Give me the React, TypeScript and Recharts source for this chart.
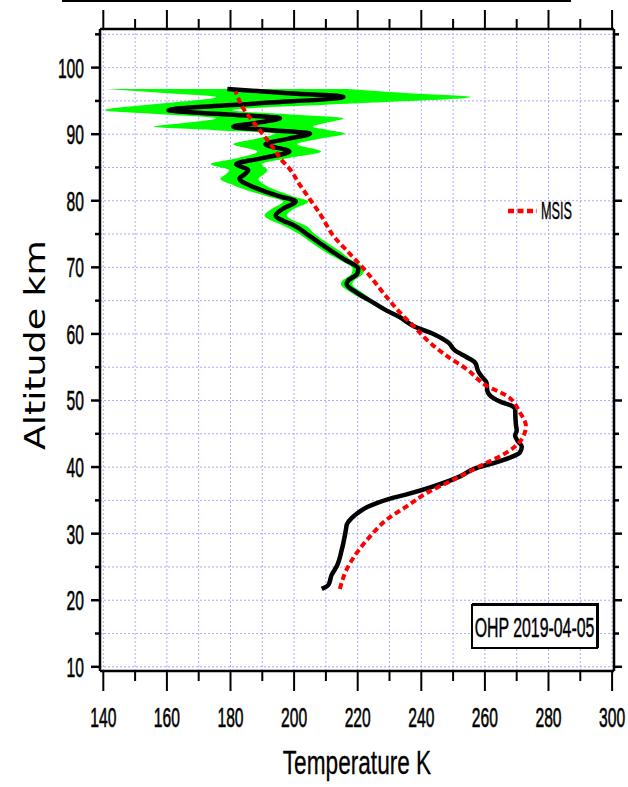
import React from "react";
import {
  ComposedChart,
  Line,
  Area,
  XAxis,
  YAxis,
  CartesianGrid,
  Legend,
} from "recharts";

// Lidar temperature profile (km, K) and its 1-sigma spread
const altitudes = [
  21.7, 22.3, 23.8, 25.1, 27.6, 30.6, 31.4, 32.3, 33.1, 34.0, 34.6, 35.3, 35.9,
  37.1, 38.6, 39.7, 40.9, 41.6, 42.2, 43.1, 43.8, 44.7, 45.5, 46.2, 47.5, 48.7,
  49.2, 49.8, 50.4, 51.4, 52.7, 53.6, 54.4, 55.7, 56.5, 57.5, 58.7, 60.0, 61.2,
  62.5, 63.5, 64.7, 66.2, 67.5, 68.0, 69.0, 69.8, 70.5, 71.0, 72.3, 73.5, 75.0,
  76.3, 77.0, 77.8, 78.8, 79.9, 80.6, 81.3, 82.3, 83.3, 84.0, 84.6, 85.5, 86.4,
  87.4, 88.5, 89.3, 90.1, 90.6, 91.1, 91.7, 92.4, 93.0, 93.6, 94.6, 95.6, 96.2,
  96.8,
];
const temperature = [
  208.7, 210.8, 211.8, 213.4, 215.0, 216.3, 216.6, 218.0, 220.0, 223.0, 226.0,
  230.5, 235.4, 243.8, 252.2, 256.4, 264.7, 268.8, 271.0, 271.6, 270.5, 269.5,
  270.0, 269.8, 269.6, 269.5, 268.4, 265.0, 262.6, 260.8, 260.5, 259.0, 257.9,
  256.9, 254.3, 250.6, 248.5, 243.8, 237.5, 233.3, 229.1, 224.9, 219.7, 216.5,
  217.0, 219.8, 220.2, 218.5, 216.5, 212.3, 208.5, 204.0, 200.0, 196.5, 194.2,
  196.5, 200.5, 196.0, 191.4, 186.1, 182.8, 184.5, 185.6, 181.8, 190.0, 198.5,
  191.0, 198.0, 205.0, 193.0, 180.9, 188.0, 195.5, 178.0, 160.5, 188.0, 215.5,
  197.0, 179.0,
];
const tempError = [
  0.3, 0.3, 0.3, 0.3, 0.3, 0.3, 0.3, 0.3, 0.3, 0.3, 0.3, 0.3, 0.3, 0.3, 0.3,
  0.3, 0.3, 0.3, 0.3, 0.3, 0.3, 0.3, 0.5, 0.5, 0.5, 0.5, 0.5, 0.5, 0.5, 0.5,
  0.5, 0.5, 0.5, 0.8, 0.8, 0.8, 0.8, 1.2, 1.2, 1.2, 1.2, 1.2, 1.8, 1.8, 1.8,
  1.8, 1.8, 1.8, 1.8, 2.5, 2.5, 2.5, 3.5, 3.5, 3.5, 3.5, 4, 4, 4.5, 5, 6, 6, 6,
  8, 8, 10, 10, 10, 11, 18, 25, 22, 20, 20, 20, 30, 40, 38, 38,
];

// MSIS model profile
const msisAltitudes = [
  21.7, 24.6, 27.1, 29.6, 32.1, 34.1, 36.1, 38.1, 40.4, 42.2, 44.2, 46.2, 48.2,
  50.7, 52.2, 54.7, 56.7, 58.7, 61.2, 63.2, 66.5, 69.3, 72.3, 74.4, 78.0, 82.4,
  84.9, 86.1, 87.9, 90.9, 93.9, 96.4,
];
const msisTemperature = [
  214.4, 216.5, 219.7, 223.9, 229.1, 235.4, 241.7, 250.1, 259.5, 266.9, 271.6,
  272.9, 271.0, 266.9, 260.6, 254.3, 248.0, 242.7, 237.5, 233.3, 227.5, 222.8,
  217.0, 212.9, 208.2, 201.8, 198.4, 196.1, 193.5, 188.7, 184.0, 181.6,
];

const tempTicks = [
  140, 150, 160, 170, 180, 190, 200, 210, 220, 230, 240, 250, 260, 270, 280,
  290, 300,
];
const tempLabels = [140, 160, 180, 200, 220, 240, 260, 280, 300];
const altTicks = [
  10, 15, 20, 25, 30, 35, 40, 45, 50, 55, 60, 65, 70, 75, 80, 85, 90, 95, 100,
  105,
];
const altLabels = [10, 20, 30, 40, 50, 60, 70, 80, 90, 100];

const lidarRows = altitudes.map((alt, i) => ({
  alt,
  t: temperature[i],
  band: [temperature[i] - tempError[i], temperature[i] + tempError[i]],
}));
const msisRows = msisAltitudes.map((alt, i) => ({
  alt,
  msis: msisTemperature[i],
}));

const T_DOMAIN: [number, number] = [138.96, 300.6];
const Z_DOMAIN: [number, number] = [9.37, 105.8];
const SANS = "'Liberation Sans', Arial, sans-serif";
const DEJAVU = "'DejaVu Sans', sans-serif";

// advance widths per 1000 em, used to squeeze labels to a condensed look
const SANS_W: Record<string, number> = {
  " ": 278, "-": 333, O: 778, H: 722, P: 667, M: 833, S: 667, I: 278, T: 611,
  K: 667, e: 556, m: 833, p: 556, r: 333, a: 556, t: 278, u: 556,
};
const DEJAVU_W: Record<string, number> = {
  " ": 318, A: 684, l: 278, t: 392, i: 278, u: 634, d: 635, e: 615, k: 579, m: 974,
};

function naturalWidth(s: string, size: number, table: Record<string, number>) {
  let w = 0;
  for (const c of s) w += table[c] ?? 556;
  return (w * size) / 1000;
}

function Squeezed(props: {
  x: number;
  y: number;
  width: number;
  size: number;
  text: string;
  anchor?: "start" | "middle" | "end";
  family?: string;
  table?: Record<string, number>;
  rotate?: number;
  weight?: number;
}) {
  const { x, y, width, size, text, anchor = "start", family = SANS, table = SANS_W, rotate = 0, weight = 0 } = props;
  const sx = width / naturalWidth(text, size, table);
  return (
    <g transform={`translate(${x} ${y}) rotate(${rotate}) scale(${sx} 1)`}>
      <text
        x={0}
        y={0}
        textAnchor={anchor}
        fontSize={size}
        fontFamily={family}
        fill="#000"
        stroke={weight ? "#000" : "none"}
        strokeWidth={weight}
      >
        {text}
      </text>
    </g>
  );
}

const DIGIT_W = 8.7;

function BottomTick(props: any) {
  const { x, y, payload } = props;
  const major = tempLabels.includes(payload.value);
  const s = String(payload.value);
  return (
    <g>
      <line x1={x} x2={x} y1={y} y2={y + (major ? 20 : 10)} stroke="#000" strokeWidth={2} />
      {major && (
        <Squeezed x={x} y={y + 56} width={s.length * DIGIT_W} size={28} text={s} anchor="middle" weight={0.6} />
      )}
    </g>
  );
}

function TopTick(props: any) {
  const { x, y, payload } = props;
  const major = tempLabels.includes(payload.value);
  return <line x1={x} x2={x} y1={y} y2={y - (major ? 19 : 10)} stroke="#000" strokeWidth={2} />;
}

function LeftTick(props: any) {
  const { x, y, payload } = props;
  const major = altLabels.includes(payload.value);
  const s = String(payload.value);
  return (
    <g>
      <line x1={x - (major ? 9 : 5)} x2={x} y1={y} y2={y} stroke="#000" strokeWidth={2.5} />
      {major && (
        <Squeezed x={x - 16} y={y + 10} width={s.length * DIGIT_W} size={28} text={s} anchor="end" weight={0.6} />
      )}
    </g>
  );
}

function RightTick(props: any) {
  const { x, y, payload } = props;
  const major = altLabels.includes(payload.value);
  return <line x1={x} x2={x + (major ? 8 : 5)} y1={y} y2={y} stroke="#000" strokeWidth={2.5} />;
}

function MsisKey() {
  return (
    <svg width={80} height={30} style={{ display: "block" }}>
      <line x1={3} x2={32} y1={15} y2={15} stroke="#ff0000" strokeWidth={4.5} strokeDasharray="6 3.5" />
      <Squeezed x={36} y={23} width={31} size={24} text="MSIS" weight={0.4} />
    </svg>
  );
}

const axisLine = { stroke: "#000", strokeWidth: 2.5 };

export default function App() {
  return (
    <div style={{ position: "absolute", left: 0, top: 0, width: 628, height: 787, background: "#fff" }}>
      <div style={{ position: "absolute", left: 62, top: 0, width: 509, height: 2, background: "#000" }} />
      <ComposedChart
        width={628}
        height={787}
        data={lidarRows}
        layout="vertical"
        margin={{ top: 0, right: 0, bottom: 0, left: 0 }}
      >
        <CartesianGrid stroke="#a9a9ff" strokeDasharray="2 2" strokeWidth={1} />
        <XAxis
          type="number"
          domain={T_DOMAIN}
          allowDataOverflow
          ticks={tempTicks}
          interval={0}
          height={116}
          tickSize={0}
          tickMargin={0}
          tickLine={false}
          axisLine={axisLine}
          tick={BottomTick}
          label={{
            content: (p: any) => (
              <Squeezed
                x={p.viewBox.x + p.viewBox.width / 2}
                y={p.viewBox.y + 103}
                width={151}
                size={33}
                text="Temperature K"
                anchor="middle"
                weight={0.3}
              />
            ),
          }}
        />
        <XAxis
          xAxisId="top"
          orientation="top"
          type="number"
          domain={T_DOMAIN}
          allowDataOverflow
          ticks={tempTicks}
          interval={0}
          height={29}
          tickSize={0}
          tickMargin={0}
          tickLine={false}
          axisLine={axisLine}
          tick={TopTick}
        />
        <YAxis
          type="number"
          dataKey="alt"
          domain={Z_DOMAIN}
          reversed
          allowDataOverflow
          ticks={altTicks}
          interval={0}
          width={100}
          tickSize={0}
          tickMargin={0}
          tickLine={false}
          axisLine={axisLine}
          tick={LeftTick}
          label={{
            content: (p: any) => (
              <Squeezed
                x={p.viewBox.x + 45}
                y={p.viewBox.y + p.viewBox.height / 2 - 5}
                width={210}
                size={27.5}
                text="Altitude km"
                anchor="middle"
                family={DEJAVU}
                table={DEJAVU_W}
                rotate={-90}
              />
            ),
          }}
        />
        <YAxis
          yAxisId="right"
          orientation="right"
          type="number"
          dataKey="alt"
          domain={Z_DOMAIN}
          reversed
          allowDataOverflow
          ticks={altTicks}
          interval={0}
          width={14}
          tickSize={0}
          tickMargin={0}
          tickLine={false}
          axisLine={axisLine}
          tick={RightTick}
        />
        <Area
          dataKey="band"
          type="monotone"
          fill="#00ff00"
          fillOpacity={1}
          stroke="none"
          isAnimationActive={false}
          legendType="none"
        />
        <Line
          dataKey="t"
          type="monotone"
          stroke="#000"
          strokeWidth={4.5}
          dot={false}
          isAnimationActive={false}
          legendType="none"
        />
        <Line
          data={msisRows}
          dataKey="msis"
          name="MSIS"
          type="monotone"
          stroke="#ff0000"
          strokeWidth={4}
          strokeDasharray="6 3.5"
          dot={false}
          isAnimationActive={false}
        />
        <Legend
          layout="horizontal"
          verticalAlign="middle"
          align="center"
          content={() => <MsisKey />}
          wrapperStyle={{ position: "absolute", left: 505, top: 196, width: 80, height: 30 }}
        />
      </ComposedChart>
      <div
        style={{
          position: "absolute",
          left: 471,
          top: 604,
          width: 127,
          height: 45,
          boxSizing: "border-box",
          border: "2px solid #000",
          boxShadow: "1px -1px 0 #000",
          background: "#fff",
        }}
      >
        <svg width={123} height={41} style={{ display: "block" }}>
          <Squeezed x={61.5} y={31} width={120} size={28} text="OHP 2019-04-05" anchor="middle" weight={0.5} />
        </svg>
      </div>
    </div>
  );
}
